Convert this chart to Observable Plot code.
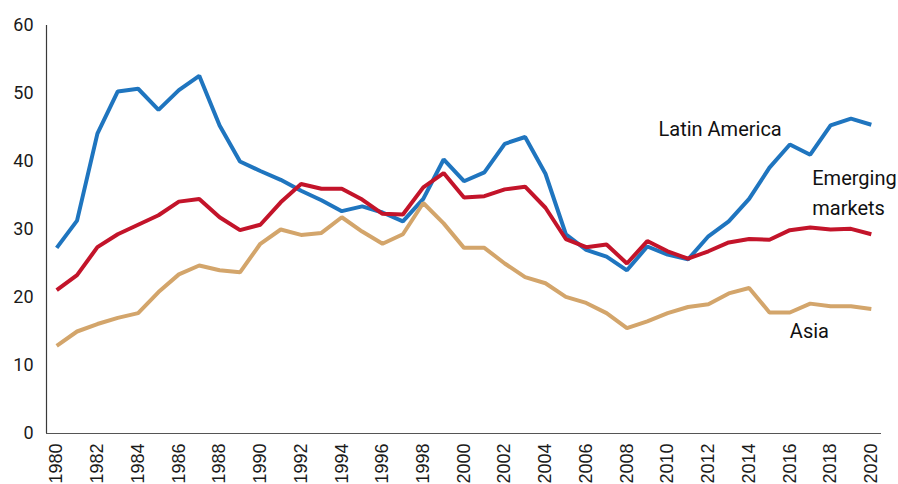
<!DOCTYPE html>
<html>
<head>
<meta charset="utf-8">
<script src="https://cdn.jsdelivr.net/npm/d3@7"></script>
<script src="https://cdn.jsdelivr.net/npm/@observablehq/plot@0.6"></script>
<style>
  html, body { margin: 0; padding: 0; background: #fff; overflow: hidden; }
  #chart svg { display: block; }
</style>
</head>
<body>
<div id="chart"></div>
<script>
const years = d3.range(1980, 2021);
const latinAmerica = [27.3, 31.3, 44.1, 50.3, 50.7, 47.6, 50.5, 52.6, 45.3, 40.0,
  38.6, 37.3, 35.7, 34.3, 32.7, 33.4, 32.5, 31.2, 34.5, 40.3,
  37.1, 38.4, 42.6, 43.6, 38.2, 29.3, 27.0, 26.0, 24.0, 27.5,
  26.3, 25.6, 29.0, 31.2, 34.5, 39.1, 42.5, 41.0, 45.3, 46.3, 45.4];
const emergingMarkets = [21.1, 23.3, 27.4, 29.3, 30.7, 32.1, 34.1, 34.5, 31.8, 29.9,
  30.7, 34.0, 36.7, 36.0, 36.0, 34.4, 32.3, 32.2, 36.2, 38.3,
  34.7, 34.9, 35.9, 36.3, 33.2, 28.6, 27.4, 27.8, 25.0, 28.3,
  26.8, 25.7, 26.8, 28.1, 28.6, 28.5, 29.9, 30.3, 30.0, 30.1, 29.3];
const asia = [12.9, 15.0, 16.1, 17.0, 17.7, 20.8, 23.4, 24.7, 24.0, 23.7,
  27.9, 30.0, 29.2, 29.5, 31.8, 29.7, 27.9, 29.3, 33.9, 30.9,
  27.3, 27.3, 25.0, 23.0, 22.1, 20.1, 19.2, 17.7, 15.5, 16.5,
  17.7, 18.6, 19.0, 20.6, 21.4, 17.8, 17.8, 19.1, 18.7, 18.7, 18.3];
const seriesNames = ["Latin America", "Emerging markets", "Asia"];
const seriesColors = ["#1f75bf", "#c3142a", "#d3a56b"];
const labelTexts = ["Latin America", "Emerging\nmarkets", "Asia"];
const labelYears = [2009.55, 2017.1, 2016.0];
const labelValues = [43.7, 32.1, 14.05];
const yTicks = [0, 10, 20, 30, 40, 50, 60];
const xTicks = d3.range(1980, 2021, 2);

const seriesValues = [latinAmerica, emergingMarkets, asia];
const data = seriesNames.flatMap((name, i) =>
  years.map((year, j) => ({ series: name, year, value: seriesValues[i][j] })));
const annot = labelTexts.map((text, i) => ({ text, year: labelYears[i], value: labelValues[i] }));

const dinFont = "Roboto, 'Noto Sans', sans-serif";

const chart = Plot.plot({
  width: 898,
  height: 484,
  marginLeft: 46,
  marginRight: 17,
  marginTop: 25,
  marginBottom: 51,
  style: { background: "#fff" },
  x: { domain: [1979.5, 2020.5], axis: null },
  y: { domain: [0, 60], axis: null },
  color: { domain: seriesNames, range: seriesColors },
  marks: [
    Plot.axisY({
      ticks: yTicks, tickSize: 0, tickPadding: 13,
      fontSize: 18, fontFamily: dinFont, fill: "#1a1a1a", label: null
    }),
    Plot.axisX({
      ticks: xTicks, tickFormat: d => String(d), tickSize: 0, tickPadding: 10,
      tickRotate: -90, fontSize: 18, fontFamily: "'Liberation Sans', Arial, sans-serif",
      fill: "#1a1a1a", label: null
    }),
    Plot.lineY(data, {
      x: "year", y: "value", z: "series", stroke: "series",
      strokeWidth: 4, strokeLinejoin: "miter", strokeLinecap: "butt"
    }),
    Plot.ruleX([1979.5], { y1: 0, y2: 60, stroke: "#3a3a3a", strokeWidth: 1.2 }),
    Plot.ruleY([0], { stroke: "#555", strokeWidth: 1.2 }),
    Plot.text(annot, {
      x: "year", y: "value", text: "text", textAnchor: "start",
      lineAnchor: "bottom", lineHeight: 1.52,
      fontSize: 20, fontFamily: dinFont, fill: "#111"
    })
  ]
});
document.getElementById("chart").appendChild(chart);
</script>
</body>
</html>
